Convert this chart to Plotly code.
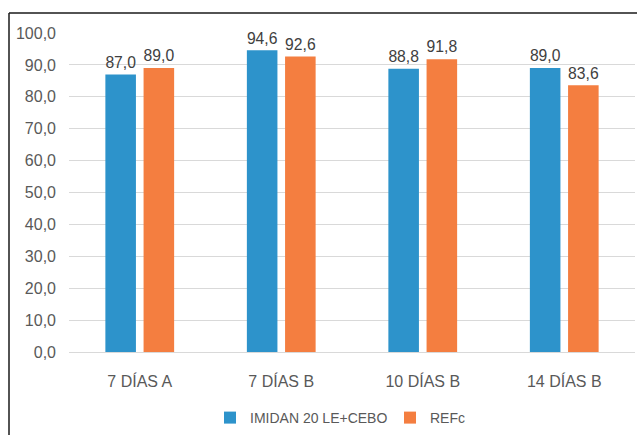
import plotly.graph_objects as go

categories = ["7 DÍAS A", "7 DÍAS B", "10 DÍAS B", "14 DÍAS B"]
imidan = [87.0, 94.6, 88.8, 89.0]
refc = [89.0, 92.6, 91.8, 83.6]
series_names = ["IMIDAN 20 LE+CEBO", "REFc"]
colors = ["#2D93CB", "#F47E40"]
ytick_vals = [0, 10, 20, 30, 40, 50, 60, 70, 80, 90, 100]

FONT = "Liberation Sans Narrow, Arial Narrow, Liberation Sans, Arial, sans-serif"

fig = go.Figure()
for name, vals, col in zip(series_names, [imidan, refc], colors):
    fig.add_trace(go.Bar(
        x=categories, y=vals, name=name,
        marker=dict(color=col, line=dict(color="rgba(255,255,255,0)", width=8)),
        texttemplate="%{y:.1f}",
        textposition="outside",
        textfont=dict(size=17, color="#404040", family=FONT),
        cliponaxis=False,
    ))

L, R, T, B = 69, 2, 33, 82
W, H = 637, 435
pw = W - L - R
ph = H - T - B

fig.update_layout(
    width=W, height=H,
    margin=dict(l=L, r=R, t=T, b=B),
    paper_bgcolor="white", plot_bgcolor="white",
    separators=",.",
    barmode="group", bargap=0.46, bargroupgap=0.2,
    font=dict(family=FONT, size=15, color="#595959"),
    showlegend=True,
    legend=dict(orientation="h", x=(210 - L) / pw, xanchor="left", y=-(418 - 353) / ph, yanchor="middle",
                font=dict(size=14, color="#595959", family=FONT), itemwidth=30,
                entrywidth=135, entrywidthmode="pixels"),
    xaxis=dict(showgrid=False, showline=False, ticks="", ticklabelstandoff=18,
               tickfont=dict(size=16, color="#595959", family=FONT)),
    yaxis=dict(range=[0, 100], tickvals=ytick_vals, tickformat=".1f",
               showgrid=True, gridcolor="#D9D9D9", gridwidth=1.3,
               zeroline=True, zerolinecolor="#D9D9D9", zerolinewidth=1.3,
               showline=False, ticks="", ticklabelstandoff=12,
               tickfont=dict(size=16, color="#595959", family=FONT)),
)

# outer chart border (top and left edges visible)
x_left = (9 - L) / pw
y_top = 1 + (T - 13) / ph
fig.add_shape(type="line", xref="paper", yref="paper", x0=x_left, x1=1.1, y0=y_top, y1=y_top,
              line=dict(color="#1a1a1a", width=1.5))
fig.add_shape(type="line", xref="paper", yref="paper", x0=x_left, x1=x_left, y0=y_top, y1=-0.5,
              line=dict(color="#1a1a1a", width=1.5))

fig.write_html("out.html")
